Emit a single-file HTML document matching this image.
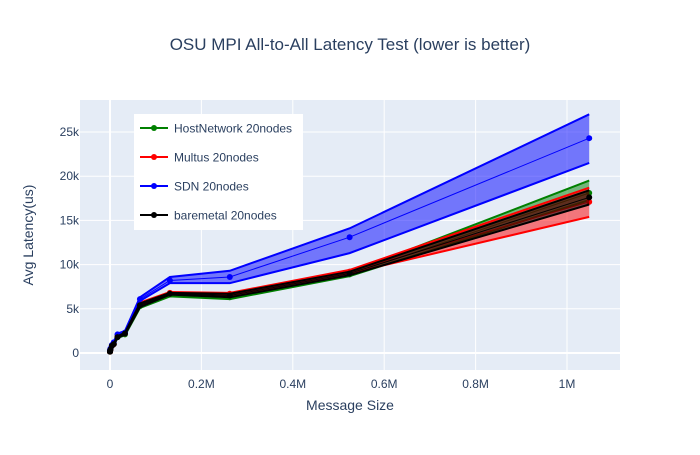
<!DOCTYPE html>
<html><head><meta charset="utf-8"><style>
body{margin:0;background:#fff;font-family:"Liberation Sans",sans-serif}
</style></head><body>
<svg id="c" width="700" height="450" xmlns="http://www.w3.org/2000/svg" style="font-family:'Liberation Sans',sans-serif">
<rect x="0" y="0" width="700" height="450" fill="#fff"/>
<text x="350" y="50" text-anchor="middle" font-size="17" fill="#2a3f5f">OSU MPI All-to-All Latency Test (lower is better)</text>
<rect x="80" y="100" width="540" height="270" fill="#e5ecf6"/>
<g id="grid"></g><g id="series"></g><g id="axes"></g>
<text x="350" y="410" text-anchor="middle" font-size="14" fill="#2a3f5f">Message Size</text>
<text transform="translate(33,235) rotate(-90)" text-anchor="middle" font-size="14" fill="#2a3f5f">Avg Latency(us)</text>
<g id="legend"></g>
</svg>
<script>
const sizes=[1,4,16,64,256,1024,4096,8192,16384,32768,65536,131072,262144,524288,1048576];
const names=["HostNetwork 20nodes","Multus 20nodes","SDN 20nodes","baremetal 20nodes"];
const colors=["green","red","blue","black"];
const hostMean=[0.15,0.16,0.18,0.2,0.25,0.4,0.8,1.0,1.8,2.1,5.3,6.6,6.3,8.9,18.1];
const hostHi=[0.2,0.2,0.22,0.25,0.3,0.5,0.9,1.1,1.9,2.3,5.5,6.8,6.5,9.1,19.5];
const hostLo=[0.1,0.12,0.14,0.15,0.2,0.3,0.7,0.9,1.7,2.0,5.1,6.4,6.1,8.7,17.3];
const multMean=[0.15,0.16,0.18,0.2,0.25,0.4,0.8,1.0,1.9,2.2,5.5,6.8,6.7,9.2,17.1];
const multHi=[0.2,0.2,0.22,0.25,0.3,0.5,0.9,1.1,2.0,2.3,5.7,6.9,6.8,9.4,18.7];
const multLo=[0.1,0.12,0.14,0.15,0.2,0.3,0.7,0.9,1.8,2.1,5.3,6.7,6.5,9.0,15.4];
const sdnMean=[0.2,0.22,0.25,0.3,0.35,0.5,0.9,1.2,2.1,2.3,6.1,8.2,8.6,13.1,24.3];
const sdnHi=[0.25,0.27,0.3,0.35,0.4,0.6,1.0,1.3,2.2,2.5,6.3,8.6,9.3,14.1,27.0];
const sdnLo=[0.15,0.17,0.2,0.25,0.3,0.4,0.8,1.1,2.0,2.2,5.9,7.9,7.9,11.3,21.5];
const bmMean=[0.15,0.16,0.18,0.2,0.25,0.4,0.8,1.0,1.8,2.2,5.4,6.7,6.5,9.0,17.6];
const bmHi=[0.2,0.2,0.22,0.25,0.3,0.5,0.9,1.1,1.9,2.3,5.6,6.8,6.7,9.2,18.4];
const bmLo=[0.1,0.12,0.14,0.15,0.2,0.3,0.7,0.9,1.7,2.1,5.2,6.6,6.3,8.8,16.8];
const xTicks=[0,200000,400000,600000,800000,1000000];
const xLabels=["0","0.2M","0.4M","0.6M","0.8M","1M"];
const yTicks=[0,5,10,15,20,25];
const yLabels=["0","5k","10k","15k","20k","25k"];
const NS="http://www.w3.org/2000/svg";
const xs=v=>110+v*457/1000000;
const ys=v=>353-v*8.84;
function mk(t,a,p){const e=document.createElementNS(NS,t);for(const k in a)e.setAttribute(k,a[k]);p.appendChild(e);return e;}
const grid=document.getElementById('grid'),axes=document.getElementById('axes');
xTicks.forEach((t,i)=>{
 const l=mk('line',{x1:xs(t),x2:xs(t),y1:100,y2:370,stroke:'#fff','stroke-width':t===0?2:1},grid);
 
 
 const tx=mk('text',{x:xs(t),y:388,'text-anchor':'middle','font-size':12,fill:'#2a3f5f'},axes);
 tx.textContent=xLabels[i];
 
 
});
yTicks.forEach((t,i)=>{
 const l=mk('line',{x1:80,x2:620,y1:ys(t),y2:ys(t),stroke:'#fff','stroke-width':t===0?2:1},grid);
 
 
 const tx=mk('text',{x:79,y:ys(t)+4,'text-anchor':'end','font-size':12,fill:'#2a3f5f'},axes);
 tx.textContent=yLabels[i];
 
 
});
const data=[[hostMean,hostHi,hostLo],[multMean,multHi,multLo],[sdnMean,sdnHi,sdnLo],[bmMean,bmHi,bmLo]];
const ser=document.getElementById('series');
const pts=a=>a.map((v,i)=>xs(sizes[i])+','+ys(v)).join(' ');
data.forEach((d,k)=>{
 const g=mk('g',{},ser);
 
 
 const band=pts(d[1])+' '+d[2].map((v,i)=>xs(sizes[i])+','+ys(v)).reverse().join(' ');
 const b=mk('polygon',{points:band,fill:colors[k],'fill-opacity':0.5,stroke:'none'},g);
 
 
 [1,2].forEach(j=>{const e=mk('polyline',{points:pts(d[j]),fill:'none',stroke:colors[k],'stroke-width':2},g);
  
  });
 const m=mk('polyline',{points:pts(d[0]),fill:'none',stroke:colors[k],'stroke-width':1},g);
 
 
 d[0].forEach((v,i)=>{const c=mk('circle',{cx:xs(sizes[i]),cy:ys(v),r:3,fill:colors[k]},g);
  
  });
});
const lg=document.getElementById('legend');
const box=mk('rect',{x:134,y:114,width:169,height:116,fill:'#fff'},lg);


names.forEach((n,k)=>{
 const y=128+k*29;
 const g=mk('g',{},lg);
 
 
 mk('line',{x1:140,x2:168,y1:y,y2:y,stroke:colors[k],'stroke-width':2},g);
 mk('circle',{cx:154,cy:y,r:3,fill:colors[k]},g);
 const t=mk('text',{x:174,y:y+4.5,'font-size':12,fill:'#2a3f5f'},g);
 t.textContent=n;
});
</script>
</body></html>
